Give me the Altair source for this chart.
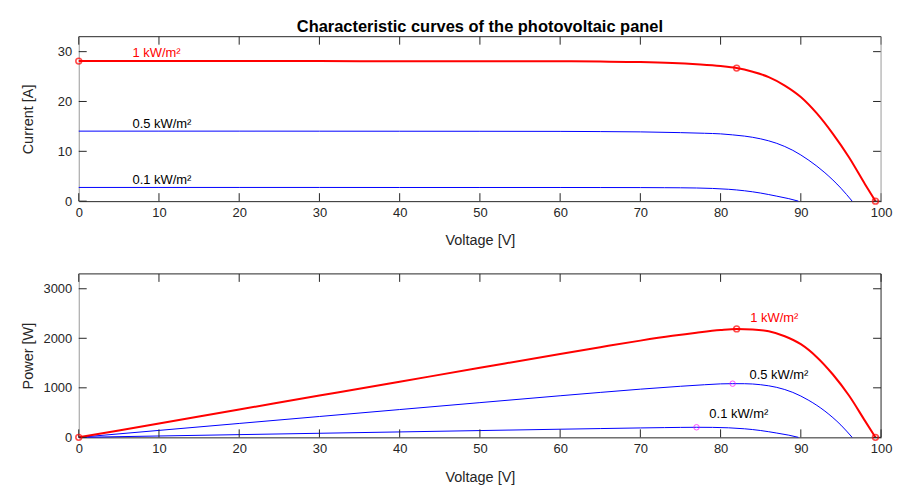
import altair as alt
import pandas as pd

# Irradiance levels, strongest first
levels = ["1 kW/m²", "0.5 kW/m²", "0.1 kW/m²"]

# I-V curve at 1 kW/m²  (voltage [V], current [A])
v_1000 = [0, 10, 20, 30, 40, 50, 60, 65, 70, 74, 77, 80, 82, 84, 86, 88, 90, 92, 94, 96, 98, 99.3]
i_1000 = [28.1, 28.1, 28.1, 28.1, 28.09, 28.08, 28.06, 28.0, 27.9, 27.7, 27.45, 27.1, 26.7,
          25.95, 24.9, 23.2, 20.9, 17.6, 13.5, 8.8, 3.4, 0.0]

# I-V curve at 0.5 kW/m²
v_500 = [0, 10, 20, 30, 40, 50, 60, 65, 70, 75, 78, 80, 81.5, 83, 85, 87, 89, 91, 93, 95, 96.4]
i_500 = [14.05, 14.05, 14.05, 14.04, 14.03, 14.02, 14.0, 13.96, 13.9, 13.75, 13.62, 13.5, 13.3,
         13.05, 12.5, 11.6, 10.2, 8.2, 5.7, 2.6, 0.0]

# I-V curve at 0.1 kW/m²
v_100 = [0, 10, 20, 30, 40, 50, 60, 65, 70, 73, 75, 77, 79, 81, 83, 85, 87, 88.5, 89.7]
i_100 = [2.75, 2.75, 2.75, 2.75, 2.74, 2.74, 2.74, 2.73, 2.72, 2.70, 2.68, 2.64, 2.55, 2.38,
         2.08, 1.62, 1.0, 0.5, 0.0]

# Short-circuit, maximum-power and open-circuit points at 1 kW/m²
key_v = [0, 82, 99.3]
key_i = [28.1, 26.7, 0.0]

# Maximum-power points at 0.5 and 0.1 kW/m²
mpp_v = [81.5, 77]
mpp_i = [13.3, 2.64]

# Curve labels: position on the I-V plot and on the P-V plot
iv_label_v = [6.7, 6.7, 6.7]
iv_label_i = [29.0, 14.7, 3.4]
pv_label_v = [83.7, 83.6, 78.6]
pv_label_p = [2320, 1188, 388]

# Axis ticks
x_ticks = [0, 10, 20, 30, 40, 50, 60, 70, 80, 90, 100]
i_ticks = [0, 10, 20, 30]
p_ticks = [0, 1000, 2000, 3000]

rows = []
for lvl, vs, cs in zip(levels, [v_1000, v_500, v_100], [i_1000, i_500, i_100]):
    rows += [{"level": lvl, "V": v, "I": c} for v, c in zip(vs, cs)]
curves = pd.DataFrame(rows)
curves["P"] = curves["V"] * curves["I"]

key = pd.DataFrame({"V": key_v, "I": key_i})
key["P"] = key["V"] * key["I"]
mpp = pd.DataFrame({"V": mpp_v, "I": mpp_i})
mpp["P"] = mpp["V"] * mpp["I"]

iv_labels = pd.DataFrame({"level": levels, "V": iv_label_v, "I": iv_label_i})
pv_labels = pd.DataFrame({"level": levels, "V": pv_label_v, "P": pv_label_p})

W, H1, H2 = 805, 165, 164
FONT = "Liberation Sans"
INK = "#262626"
GREY = "#9a9a9a"
TICK = 8

x_scale = alt.Scale(domain=[0, 100], nice=False, zero=False)
label_color = alt.Scale(domain=levels, range=["#ff0000", "#000000", "#000000"])


def x_axis():
    return alt.Axis(values=x_ticks, ticks=False, grid=False, domainColor=INK, labelFlush=False,
                    labelPadding=5, labelFont=FONT, labelFontSize=13, labelColor=INK,
                    title="Voltage [V]", titleX=W / 2, titleY=40, titleBaseline="middle",
                    titleFont=FONT, titleFontSize=14.5, titleColor=INK, titleFontWeight="normal")


def y_axis(title, ticks, h):
    return alt.Axis(values=ticks, ticks=False, grid=False, domainColor=GREY, labelPadding=7,
                    format="d", labelFont=FONT, labelFontSize=13, labelColor=INK,
                    title=title, titleX=-50, titleY=h / 2, titleBaseline="middle",
                    titleFont=FONT, titleFontSize=14.5, titleColor=INK, titleFontWeight="normal")


def panel(ycol, y_scale, ticks, title, h, right_color, label_df):
    x_enc = alt.X("V:Q", scale=x_scale, axis=x_axis())
    y_enc = alt.Y(f"{ycol}:Q", scale=y_scale, axis=y_axis(title, ticks, h))
    # secondary layers share the scales and leave the axes to the curve layers
    nx = alt.X("V:Q", scale=x_scale)
    ny = alt.Y(f"{ycol}:Q", scale=y_scale)

    blue = alt.Chart(curves).transform_filter(alt.datum.level != levels[0]).mark_line(
        color="#0000ff", strokeWidth=1, interpolate="monotone"
    ).encode(x=x_enc, y=y_enc, detail="level:N")
    red = alt.Chart(curves).transform_filter(alt.datum.level == levels[0]).mark_line(
        color="#ff0000", strokeWidth=2, interpolate="monotone"
    ).encode(x=x_enc, y=y_enc)

    # inside ticks on all four edges
    xt = pd.DataFrame({"V": x_ticks})
    yt = pd.DataFrame({ycol: ticks})
    ticks_b = alt.Chart(xt).mark_rule(color=INK).encode(x=nx, y=alt.value(h), y2=alt.value(h - TICK))
    ticks_t = alt.Chart(xt).mark_rule(color=INK).encode(x=nx, y=alt.value(0), y2=alt.value(TICK))
    ticks_l = alt.Chart(yt).mark_rule(color=INK).encode(y=ny, x=alt.value(0), x2=alt.value(TICK))
    ticks_r = alt.Chart(yt).mark_rule(color=INK).encode(y=ny, x=alt.value(W - TICK), x2=alt.value(W))

    edge = pd.DataFrame({"e": [0]})
    top_edge = alt.Chart(edge).mark_rule(color=INK).encode(
        x=alt.value(0), x2=alt.value(W), y=alt.value(0))
    right_edge = alt.Chart(edge).mark_rule(color=right_color).encode(
        x=alt.value(W), y=alt.value(0), y2=alt.value(h))

    text = alt.Chart(label_df).mark_text(
        align="left", baseline="alphabetic", font=FONT, fontSize=13
    ).encode(
        x=nx, y=ny,
        text="level:N",
        color=alt.Color("level:N", scale=label_color, legend=None),
    )

    red_pts = alt.Chart(key).mark_point(
        shape="circle", filled=False, color="#ff0000", size=34, strokeWidth=1.6
    ).encode(x=nx, y=ny)

    layers = [blue, red, ticks_b, ticks_t, ticks_l, ticks_r, top_edge, right_edge, text, red_pts]
    if ycol == "P":
        mag_pts = alt.Chart(mpp).mark_point(
            shape="circle", filled=False, color="#ff00ff", size=30, strokeWidth=1
        ).encode(x=nx, y=ny)
        layers.append(mag_pts)
    return alt.layer(*layers).properties(width=W, height=h)


top = panel("I", alt.Scale(domain=[0, 33], nice=False), i_ticks, "Current [A]", H1, GREY,
            iv_labels).properties(
    title=alt.TitleParams("Characteristic curves of the photovoltaic panel", font=FONT, fontSize=16.5,
                          fontWeight="bold", color="#000000", anchor="middle", offset=1)
)
bottom = panel("P", alt.Scale(domain=[0, 3300], nice=False), p_ticks, "Power [W]", H2, INK,
               pv_labels)

chart = alt.vconcat(top, bottom, spacing=25).properties(
    padding={"left": 21, "top": 18, "right": 5, "bottom": 5}
).configure_view(stroke=None)

chart.save("out.html", embed_options={"renderer": "svg", "actions": False})
